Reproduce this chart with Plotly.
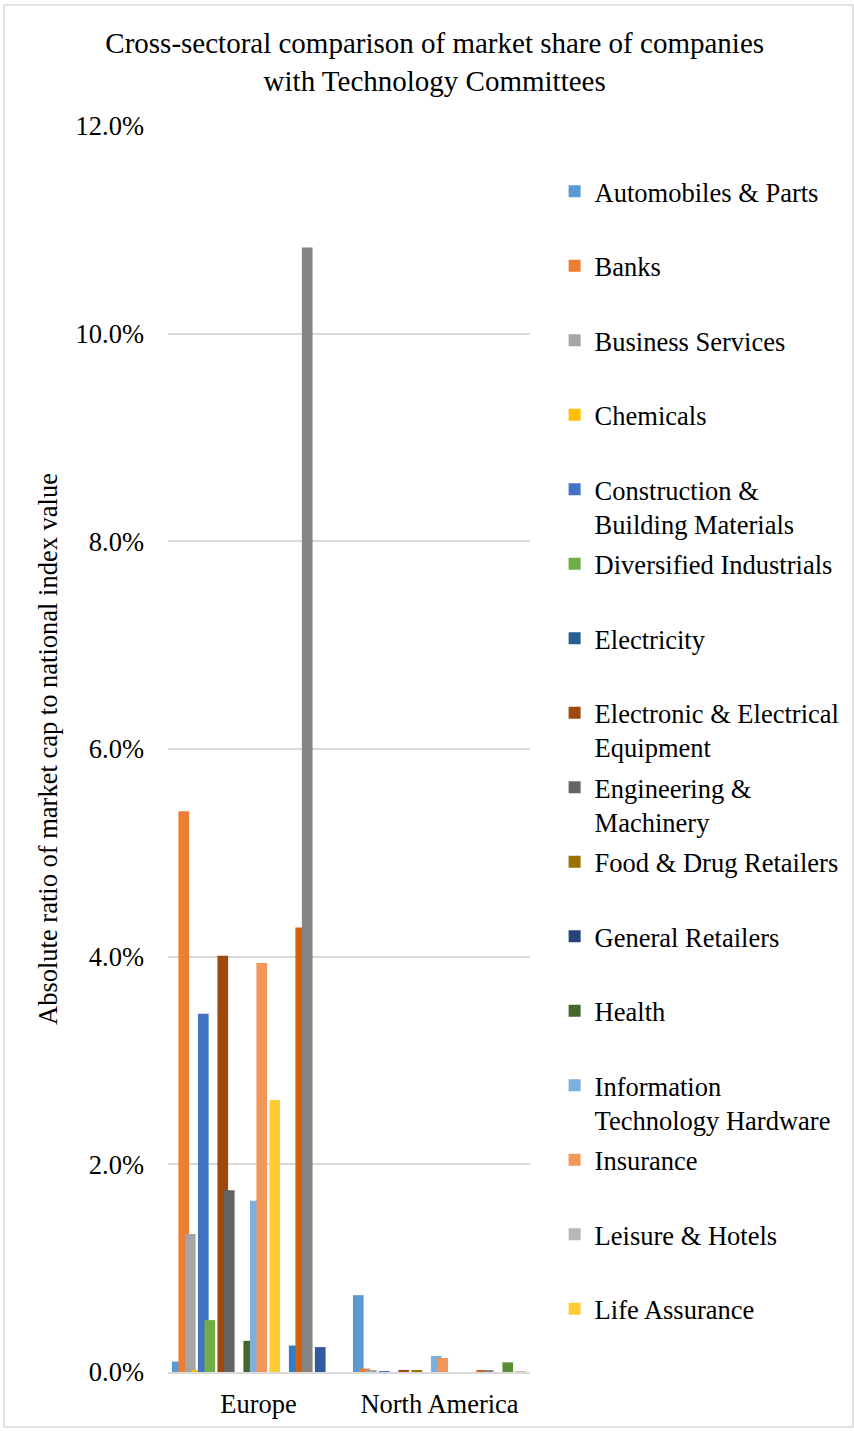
import plotly.graph_objects as go

# Regions on the category axis
regions = ["Europe", "North America"]

# Sector series (all 26 sectors plotted; legend lists the first 16)
sectors = [
    "Automobiles & Parts", "Banks", "Business Services", "Chemicals",
    "Construction &<br>Building Materials", "Diversified Industrials", "Electricity",
    "Electronic & Electrical<br>Equipment", "Engineering &<br>Machinery",
    "Food & Drug Retailers", "General Retailers", "Health",
    "Information<br>Technology Hardware", "Insurance", "Leisure & Hotels",
    "Life Assurance", "Media", "Mining", "Oil & Gas", "Personal Goods",
    "Pharmaceuticals & Biotechnology", "Real Estate",
    "Software & Computer Services", "Support Services",
    "Telecommunications", "Utilities",
]

# Share of national index market cap (fraction), per sector
europe = [0.0010, 0.0540, 0.0133, 0.0001, 0.0345, 0.0050, 0.0, 0.0401, 0.0175,
          0.0, 0.0, 0.0030, 0.0165, 0.0394, 0.0, 0.0262, 0.0, 0.0, 0.00255,
          0.0428, 0.1083, 0.0, 0.0024, 0.0, 0.0, 0.0]
north_america = [0.0074, 0.00033, 0.0001, 0.0, 0.00005, 0.0, 0.0, 0.0002, 0.0,
                 0.0001, 0.0, 0.0, 0.00155, 0.00135, 0.0, 0.0, 0.0, 0.0, 0.0,
                 0.0001, 0.0001, 0.0, 0.0, 0.00093, 0.0, 0.00005]

colors = [
    "#5B9BD5", "#ED7D31", "#A5A5A5", "#FFC000", "#4472C4", "#70AD47",
    "#255E91", "#9E480E", "#636363", "#997300", "#264478", "#43682B",
    "#7CAFDD", "#F1975A", "#B7B7B7", "#FFCD33", "#698ED0", "#8CC168",
    "#327DC2", "#D26012", "#848484", "#BF9000", "#335AA1", "#5A8F3A",
    "#9DC3E6", "#D9C3A5",
]

legend_count = 16
n = len(sectors)
bar_w = 0.059          # overlapping clustered bars
pitch = 0.0359
first = -((n - 1) * pitch + bar_w) / 2

font_family = "Liberation Serif, Times New Roman, serif"
fs = 26.5

fig = go.Figure()
for i, name in enumerate(sectors):
    label = name if "<br>" in name else name + "<br> "
    fig.add_trace(go.Bar(
        x=regions,
        y=[europe[i], north_america[i]],
        name=label,
        legendgroup=f"g{i}",
        showlegend=i < legend_count,
        marker=dict(color=colors[i], line=dict(width=0)),
        width=bar_w,
        offset=first + i * pitch,
        hovertemplate=name.replace("<br>", " ") + ": %{y:.2%}<extra></extra>",
    ))

fig.update_layout(
    width=854,
    height=1431,
    barmode="overlay",
    paper_bgcolor="white",
    plot_bgcolor="white",
    margin=dict(l=168, r=324, t=126, b=59, autoexpand=False),
    font=dict(family=font_family, size=fs, color="#000000"),
    title=dict(
        text="Cross-sectoral comparison of market share of companies<br>with Technology Committees",
        x=0.509, xanchor="center",
        y=0.963, yanchor="top",
        font=dict(size=29, family=font_family, color="#000000"),
    ),
    legend=dict(
        x=1.068, xanchor="left",
        yref="container",
        y=0.883, yanchor="top",
        maxheight=1,
        valign="top",
        traceorder="grouped",
        tracegroupgap=2.6,
        font=dict(size=fs, family=font_family, color="#000000"),
        bgcolor="rgba(0,0,0,0)",
    ),
    showlegend=True,
    xaxis=dict(
        type="category",
        showgrid=False,
        showline=True,
        linecolor="#D9D9D9",
        linewidth=2,
        ticks="",
        ticklabelstandoff=7,
        tickfont=dict(size=fs, family=font_family, color="#000000"),
    ),
    yaxis=dict(
        range=[0, 0.12],
        dtick=0.02,
        tickformat=".1%",
        showgrid=True,
        gridcolor="#D9D9D9",
        gridwidth=1.5,
        zeroline=False,
        ticks="",
        ticklabelstandoff=23,
        tickfont=dict(size=fs, family=font_family, color="#000000"),
        title=dict(
            text="Absolute ratio of market cap to national index value",
            standoff=10,
            font=dict(size=fs, family=font_family, color="#000000"),
        ),
    ),
    shapes=[dict(
        type="rect", xref="paper", yref="paper",
        x0=-0.453, x1=1.892, y0=-0.0441, y1=1.0971,
        line=dict(color="#D9D9D9", width=1.5),
        fillcolor="rgba(0,0,0,0)", layer="below",
    )],
)

fig.write_html("out.html")
